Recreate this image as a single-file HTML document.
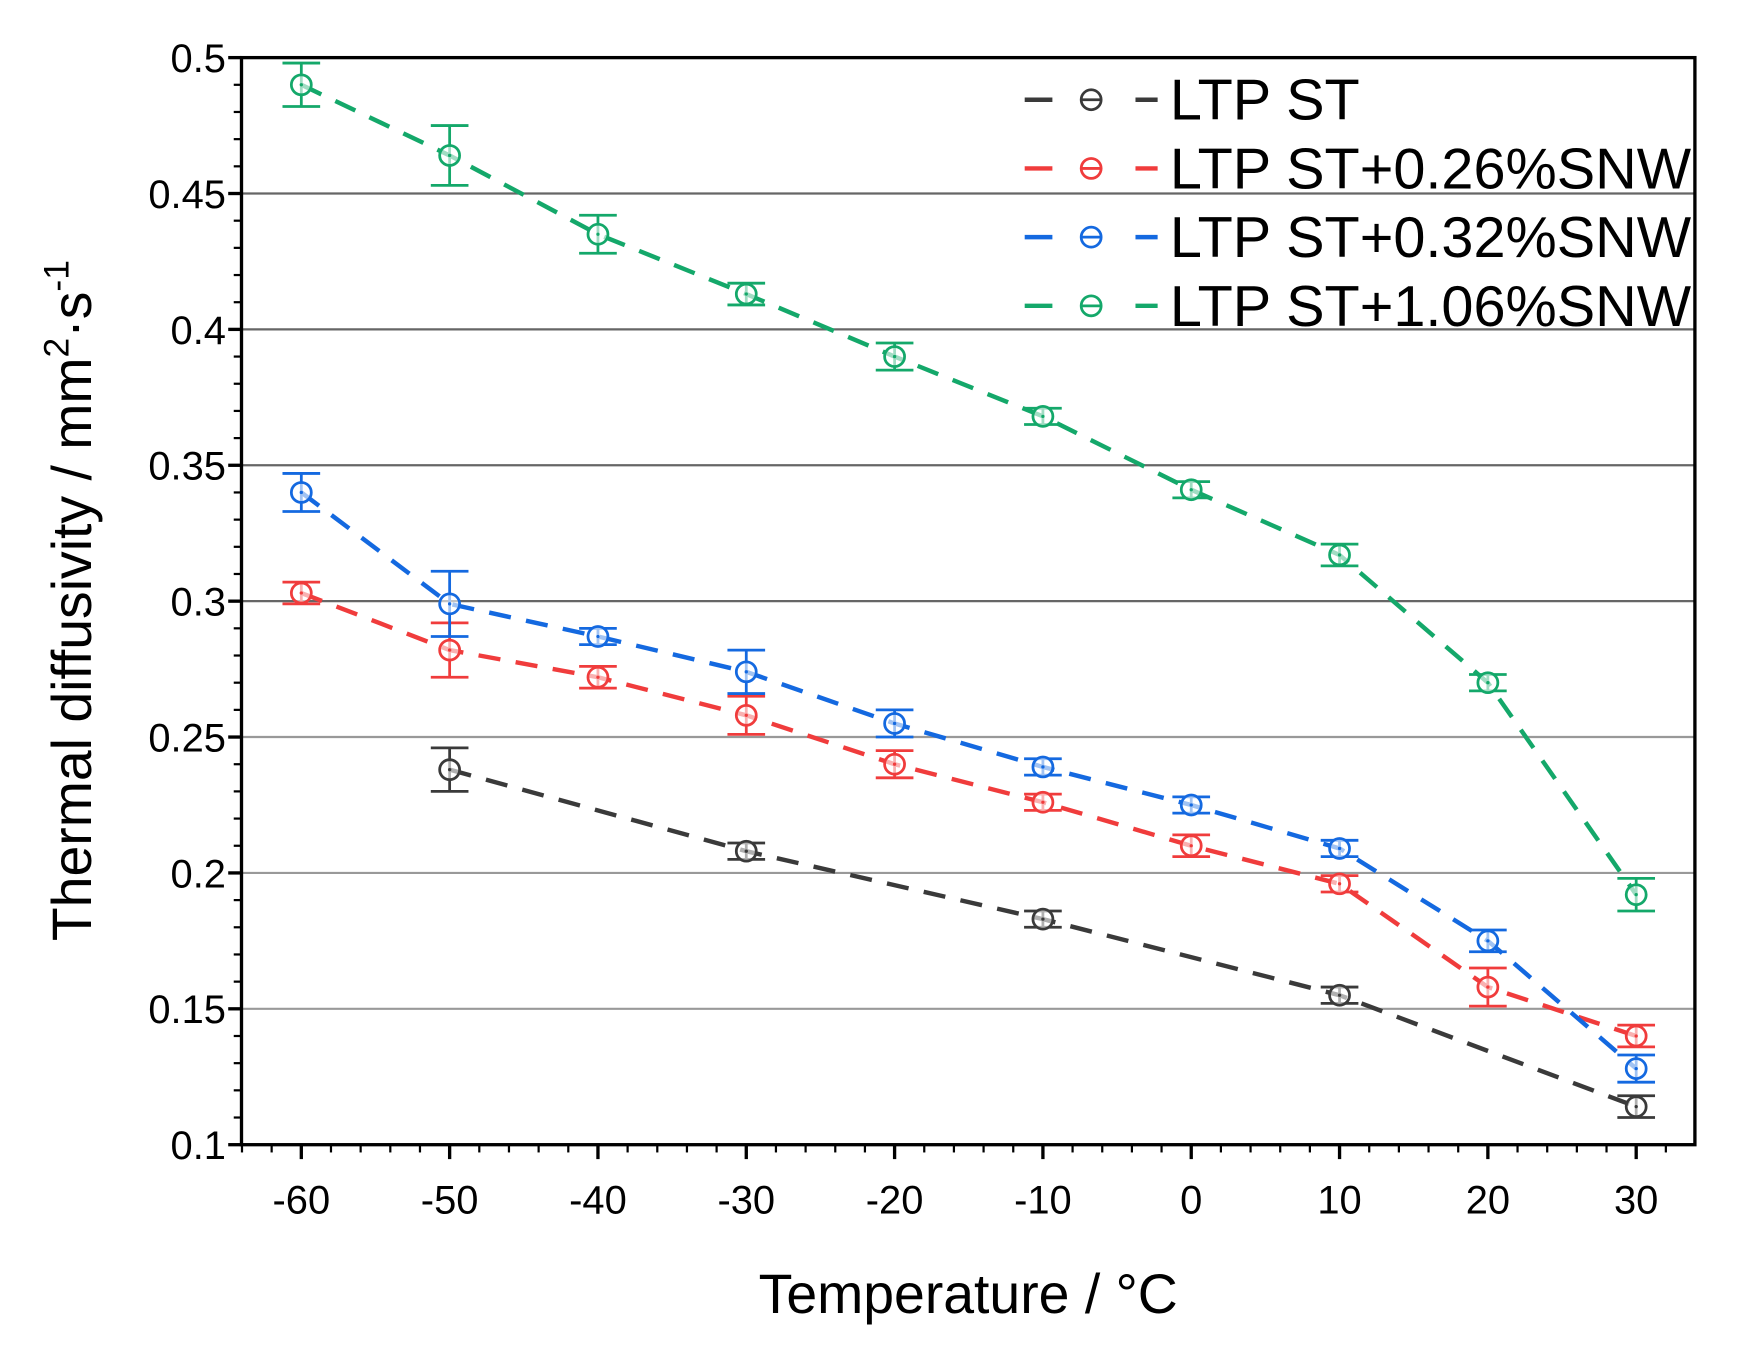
<!DOCTYPE html>
<html><head><meta charset="utf-8"><style>
html,body{margin:0;padding:0;background:#fff;}
svg{display:block;}
text{font-family:"Liberation Sans",sans-serif;fill:#000;}
</style></head><body>
<svg id="chart" width="1737" height="1363" viewBox="0 0 1568 1230" preserveAspectRatio="none" xmlns="http://www.w3.org/2000/svg">
<rect x="0" y="0" width="1568" height="1230" fill="#fff"/>
<g id="grid"></g>
<g id="series"></g>
<rect x="218" y="52" width="1312" height="981" fill="none" stroke="#000" stroke-width="3"/>
<g id="axes"></g>
<text x="874" y="1185" font-size="50" text-anchor="middle">Temperature / °C</text>
<text transform="translate(82,542) rotate(-90)" font-size="50" text-anchor="middle">Thermal diffusivity / mm<tspan font-size="32" dy="-20">2</tspan><tspan dy="20">·s</tspan><tspan font-size="32" dy="-20">-1</tspan></text>
<g id="legend"></g>
</svg>
<script>
const temps = [-60,-50,-40,-30,-20,-10,0,10,20,30];
const seriesNames = ["LTP ST","LTP ST+0.26%SNW","LTP ST+0.32%SNW","LTP ST+1.06%SNW"];
const ltpVals = [null,0.238,null,0.208,null,0.183,null,0.155,null,0.114];
const ltpErr  = [null,0.008,null,0.003,null,0.003,null,0.003,null,0.004];
const snw026Vals = [0.303,0.282,0.272,0.258,0.240,0.226,0.210,0.196,0.158,0.140];
const snw026Err  = [0.004,0.010,0.004,0.007,0.005,0.003,0.004,0.003,0.007,0.004];
const snw032Vals = [0.340,0.299,0.287,0.274,0.255,0.239,0.225,0.209,0.175,0.128];
const snw032Err  = [0.007,0.012,0.003,0.008,0.005,0.003,0.003,0.003,0.004,0.005];
const snw106Vals = [0.490,0.464,0.435,0.413,0.390,0.368,0.341,0.317,0.270,0.192];
const snw106Err  = [0.008,0.011,0.007,0.004,0.005,0.003,0.003,0.004,0.003,0.006];
const xTicks = [-60,-50,-40,-30,-20,-10,0,10,20,30];
const yTicks = [0.1,0.15,0.2,0.25,0.3,0.35,0.4,0.45,0.5];
const yTickLabels = ["0.1","0.15","0.2","0.25","0.3","0.35","0.4","0.45","0.5"];

const NS="http://www.w3.org/2000/svg";
const L=218,R=1530,T=52,B=1033;
function xs(v){return 272+(v+60)*(1477-272)/90;}
function ys(v){return B-(v-0.1)*(B-T)/0.4;}
function mk(tag,attrs,parent){const e=document.createElementNS(NS,tag);for(const k in attrs)e.setAttribute(k,attrs[k]);parent.appendChild(e);return e;}
const grid=document.getElementById('grid'),axes=document.getElementById('axes'),ser=document.getElementById('series'),leg=document.getElementById('legend');

yTicks.forEach((t,i)=>{
  const y=ys(t);
  if(i>0&&i<yTicks.length-1){
    const g=mk('line',{x1:L,x2:R,y1:y,y2:y,stroke:(t>=0.3?'#666':'#999'),'stroke-width':2},grid);
    
    
  }
  const tk=mk('line',{x1:L-12,x2:L,y1:y,y2:y,stroke:'#000','stroke-width':3},axes);
  
  
  const tx=mk('text',{x:L-14,y:y+13,'font-size':36,'text-anchor':'end'},axes);
  tx.textContent=yTickLabels[i];
  
  
});
for(let v=0.1;v<0.5;v+=0.01){const y=ys(v);mk('line',{x1:L-7,x2:L,y1:y,y2:y,stroke:'#000','stroke-width':2},axes);}
for(let v=-64;v<=34;v+=2){const x=xs(v);if(x<L||x>R)continue;mk('line',{x1:x,x2:x,y1:B,y2:B+7,stroke:'#000','stroke-width':2},axes);}
xTicks.forEach(t=>{
  const x=xs(t);
  const tk=mk('line',{x1:x,x2:x,y1:B,y2:B+13,stroke:'#000','stroke-width':3},axes);
  
  
  const tx=mk('text',{x:x,y:B+62,'font-size':36,'text-anchor':'middle'},axes);
  tx.textContent=String(t);
  
  
});

const allVals=[ltpVals,snw026Vals,snw032Vals,snw106Vals];
const allErr=[ltpErr,snw026Err,snw032Err,snw106Err];
const colors=["#3a3a3a","#f03c3c","#1469e0","#14a86a"];
const keys=["ltp-st","snw-026","snw-032","snw-106"];
allVals.forEach((vals,si)=>{
  const g=mk('g',{},ser);
  
  
  const pts=[];
  vals.forEach((v,i)=>{if(v!=null)pts.push([xs(temps[i]),ys(v)]);});
  const ln=mk('polyline',{points:pts.map(p=>p.join(',')).join(' '),fill:'none',stroke:colors[si],'stroke-width':4,'stroke-dasharray':'20 14'},g);
  
  
  vals.forEach((v,i)=>{
    if(v==null)return;
    const x=xs(temps[i]),y=ys(v),e=allErr[si][i];
    const y1=ys(v+e),y2=ys(v-e);
    const eb=mk('path',{d:`M${x},${y1}V${y2}M${x-17},${y1}H${x+17}M${x-17},${y2}H${x+17}`,stroke:colors[si],'stroke-width':2.5,fill:'none'},g);
    
    
    const c=mk('circle',{cx:x,cy:y,r:9,fill:'#fff','fill-opacity':0.6,stroke:colors[si],'stroke-width':2.5},g);
    
    
    mk('circle',{cx:x,cy:y,r:1.5,fill:colors[si]},g);
  });
});

seriesNames.forEach((n,i)=>{
  const y=90+i*62;
  const g=mk('g',{},leg);
  
  
  mk('line',{x1:925,x2:950,y1:y,y2:y,stroke:colors[i],'stroke-width':4},g);
  mk('line',{x1:1025,x2:1045,y1:y,y2:y,stroke:colors[i],'stroke-width':4},g);
  mk('circle',{cx:985,cy:y,r:9,fill:'#fff',stroke:colors[i],'stroke-width':2.5},g);
  mk('line',{x1:976,x2:994,y1:y,y2:y,stroke:colors[i],'stroke-width':2.5},g);
  const t=mk('text',{x:1056,y:y+18,'font-size':52},g);
  t.textContent=n;
  
  
});
</script>
</body></html>
